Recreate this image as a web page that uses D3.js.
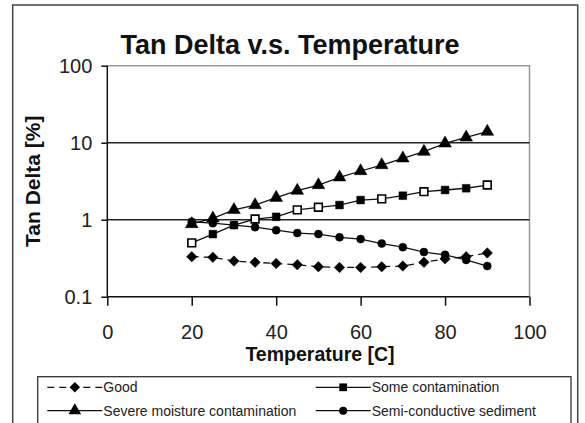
<!DOCTYPE html>
<html><head><meta charset="utf-8">
<script src="https://d3js.org/d3.v7.min.js"></script>
<style>body{margin:0;background:#fff}svg{display:block;font-family:Arial,"Liberation Sans",sans-serif}</style>
</head><body><svg id="c" width="585" height="423"></svg>
<script>
const temps = [20,25,30,35,40,45,50,55,60,65,70,75,80,85,90];
const good = [0.33,0.325,0.29,0.28,0.27,0.26,0.245,0.24,0.24,0.245,0.25,0.28,0.31,0.33,0.37];
const someContamination = [0.50,0.65,0.85,1.02,1.09,1.34,1.45,1.55,1.80,1.86,2.05,2.31,2.43,2.56,2.82];
const hollowSquares = [true,false,false,true,false,true,true,false,false,true,false,true,false,false,true];
const severeMoisture = [0.88,1.04,1.34,1.55,1.93,2.38,2.82,3.55,4.29,5.13,6.27,7.64,9.8,11.7,13.9];
const semiConductive = [0.94,0.90,0.85,0.80,0.73,0.67,0.65,0.59,0.56,0.49,0.44,0.38,0.35,0.30,0.25];
const xTicks = [0,20,40,60,80,100];
const yTicks = [0.1,1,10,100];
const yTickLabels = ["0.1","1","10","100"];
const gridValues = [1,10];
const seriesNames = ["Good","Some contamination","Severe moisture contamination","Semi-conductive sediment"];

const svg = d3.select("#c");
const L=107.3, R=529.5, T=65.7, B=296.7;
const x = d3.scaleLinear().domain([0,100]).range([L,R]);
const y = d3.scaleLog().domain([0.1,100]).range([B,T]);

// outer frame
svg.append("rect").attr("x",12.7).attr("y",5).attr("width",565).attr("height",430)
  .attr("fill","none").attr("stroke","#444").attr("stroke-width",1.5);

// title
svg.append("text").attr("x",290).attr("y",54).attr("text-anchor","middle")
  .attr("font-size",27).attr("font-weight","bold").attr("fill","#111").text("Tan Delta v.s. Temperature");

// plot frame top/right
svg.append("path").attr("d",`M${L},${T}H${R}V${B}`).attr("fill","none").attr("stroke","#999").attr("stroke-width",1.5);

// gridlines
svg.selectAll(".grid").data(gridValues).join("line")
  .attr("x1",L).attr("x2",R).attr("y1",d=>y(d)).attr("y2",d=>y(d))
  .attr("stroke","#222").attr("stroke-width",1.5);

// axes
const xAxis = svg.append("g").attr("transform",`translate(0,${B})`)
  .call(d3.axisBottom(x).tickValues(xTicks).tickSize(9).tickPadding(19).tickFormat(d3.format("d")));
const yAxis = svg.append("g").attr("transform",`translate(${L},0)`)
  .call(d3.axisLeft(y).tickValues(yTicks).tickSize(6).tickPadding(9).tickFormat((d,i)=>yTickLabels[i]));
[xAxis,yAxis].forEach(a=>{
  a.select(".domain").attr("stroke","#111").attr("stroke-width",1.5);
  a.selectAll(".tick line").attr("stroke","#111").attr("stroke-width",1.5);
  a.selectAll("text").attr("font-size",20).attr("fill","#222").attr("font-family","Arial, Liberation Sans, sans-serif");
});
xAxis.select(".domain").attr("d",`M${L},0H${R}`);
yAxis.select(".domain").attr("d",`M0,${B}V${T}`);

// axis titles
svg.append("text").attr("x",320).attr("y",361).attr("text-anchor","middle")
  .attr("font-size",19.5).attr("font-weight","bold").attr("fill","#111").text("Temperature [C]");
svg.append("text").attr("transform",`translate(40,${(T+B)/2}) rotate(-90)`).attr("text-anchor","middle")
  .attr("font-size",21).attr("font-weight","bold").attr("fill","#111").text("Tan Delta [%]");

const line = d3.line().x(d=>x(d[0])).y(d=>y(d[1]));
const symDiamond = d3.symbol().type(d3.symbolDiamond2).size(70)();
const symSquare = d3.symbol().type(d3.symbolSquare).size(60)();
const symTriangle = d3.symbol().type(d3.symbolTriangle).size(70)();
const symCircle = d3.symbol().type(d3.symbolCircle).size(50)();

const series = [
  {vals:good, dash:"7,5", sym:symDiamond},
  {vals:someContamination, dash:null, sym:symSquare, hollow:hollowSquares},
  {vals:severeMoisture, dash:null, sym:symTriangle},
  {vals:semiConductive, dash:null, sym:symCircle}
];
const g = svg.append("g");
series.forEach(s=>{
  const pts = temps.map((t,i)=>[t,s.vals[i]]);
  g.append("path").attr("d",line(pts)).attr("fill","none").attr("stroke","#111").attr("stroke-width",1.3)
    .attr("stroke-dasharray",s.dash);
  g.selectAll(null).data(pts).join("path").attr("d",s.sym)
    .attr("transform",d=>`translate(${x(d[0])},${y(d[1])})`)
    .attr("fill",(d,i)=>s.hollow && s.hollow[i] ? "#fff" : "#000")
    .attr("stroke","#000").attr("stroke-width",(d,i)=>s.hollow && s.hollow[i] ? 1.6 : 0.5);
});

// legend
svg.append("rect").attr("x",37.7).attr("y",376.7).attr("width",533.3).attr("height",60)
  .attr("fill","none").attr("stroke","#333").attr("stroke-width",1.3);
const legPos = [[47.3,387.3],[315.7,387.3],[47.3,410.7],[315.7,410.7]];
series.forEach((s,i)=>{
  const [lx,ly]=legPos[i];
  const lg = svg.append("g").attr("transform",`translate(${lx},${ly})`);
  lg.append("line").attr("x1",0).attr("x2",55).attr("y1",0).attr("y2",0).attr("stroke","#111")
    .attr("stroke-width",1.3).attr("stroke-dasharray",s.dash);
  lg.append("path").attr("d",s.sym).attr("transform","translate(27.5,0)").attr("fill","#000");
  lg.append("text").attr("x",56).attr("y",5).attr("font-size",14).attr("fill","#222").text(seriesNames[i]);
});
</script></body></html>
